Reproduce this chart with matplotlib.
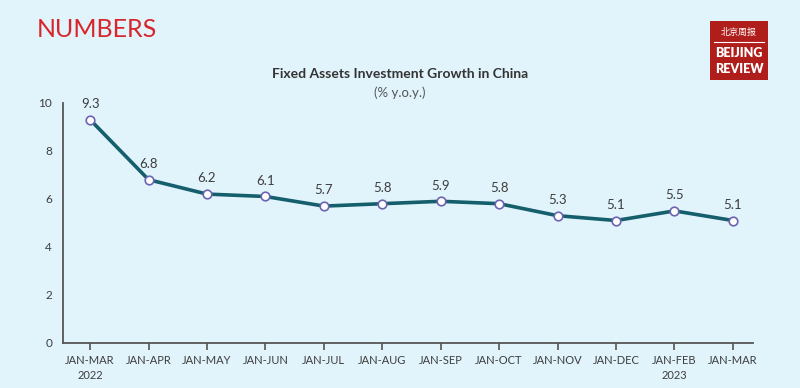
import matplotlib
matplotlib.use("Agg")
import matplotlib.pyplot as plt
from matplotlib.patches import Rectangle

periods = ["JAN-MAR\n2022", "JAN-APR", "JAN-MAY", "JAN-JUN", "JAN-JUL", "JAN-AUG",
           "JAN-SEP", "JAN-OCT", "JAN-NOV", "JAN-DEC", "JAN-FEB\n2023", "JAN-MAR"]
growth = [9.3, 6.8, 6.2, 6.1, 5.7, 5.8, 5.9, 5.8, 5.3, 5.1, 5.5, 5.1]
y_ticks = [0, 2, 4, 6, 8, 10]

BG = "#e1f3fb"
LINE = "#155e6c"
TEXT = "#3d3d3d"

plt.rcParams["font.family"] = ["Lato", "DejaVu Sans"]

fig = plt.figure(figsize=(8, 3.88), dpi=100, facecolor=BG)
ax = fig.add_axes([0.079, 0.116, 0.862, 0.619], facecolor=BG)

x = list(range(len(growth)))
ax.plot(x, growth, color=LINE, linewidth=2.6, zorder=2)
ax.scatter(x, growth, s=38, facecolor="white", edgecolor="#6d63b0", linewidth=1.2, zorder=3)
for xi, v in zip(x, growth):
    ax.annotate(f"{v:.1f}", (xi, v), xytext=(0, 7), textcoords="offset points",
                ha="center", va="bottom", fontsize=9.5, color=TEXT)

ax.set_xlim(-0.46, 11.34)
ax.set_ylim(0, 10)
ax.set_yticks(y_ticks)
ax.set_yticklabels([str(t) for t in y_ticks])
ax.set_xticks(x)
ax.set_xticklabels(periods, linespacing=1.35)
ax.tick_params(axis="y", length=0, pad=8, labelsize=8.5, labelcolor=TEXT)
ax.tick_params(axis="x", length=5, width=1.2, color="#555555", pad=4,
               labelsize=8, labelcolor=TEXT)
for side in ["top", "right"]:
    ax.spines[side].set_visible(False)
for side in ["left", "bottom"]:
    ax.spines[side].set_color("#555555")
    ax.spines[side].set_linewidth(1.3)

fig.text(0.5, 0.81, "Fixed Assets Investment Growth in China", ha="center", va="center",
         fontsize=10, fontweight="bold", color="#333333")
fig.text(0.5, 0.762, "(% y.o.y.)", ha="center", va="center", fontsize=9.5, color="#555555")

fig.text(0.046, 0.925, "NUMBERS", ha="left", va="center", fontsize=18,
         color="#d7252b")

# Beijing Review logo
fig.patches.append(Rectangle((0.888, 0.793), 0.072, 0.153, transform=fig.transFigure,
                             facecolor="#b01e1c", edgecolor="none", zorder=5))
fig.text(0.924, 0.917, "北京周报", ha="center", va="center", fontsize=6.5, color="white",
         family=["Noto Sans CJK SC", "DejaVu Sans"], zorder=6)
fig.lines.append(plt.Line2D([0.893, 0.955], [0.893, 0.893], transform=fig.transFigure,
                            color="white", linewidth=0.8, zorder=6))
fig.text(0.924, 0.863, "BEIJING", ha="center", va="center", fontsize=9, color="white",
         fontweight="heavy", zorder=6)
fig.text(0.924, 0.822, "REVIEW", ha="center", va="center", fontsize=9, color="white",
         fontweight="heavy", zorder=6)

fig.savefig("out.png", dpi=100, facecolor=BG)
